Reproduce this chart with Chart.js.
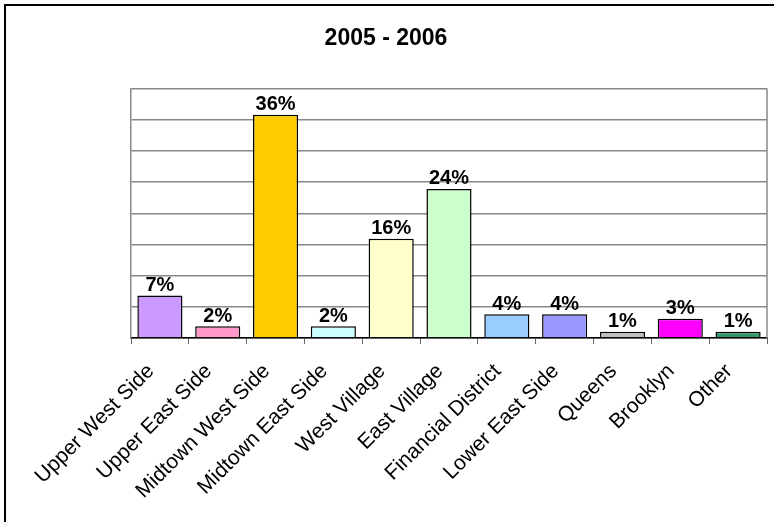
<!DOCTYPE html>
<html>
<head>
<meta charset="utf-8">
<script src="https://cdn.jsdelivr.net/npm/chart.js@4/dist/chart.umd.min.js"></script>
<style>
  html, body { margin: 0; padding: 0; background: #fff; }
  #box { width: 774px; height: 522px; }
</style>
</head>
<body>
<div id="box"><canvas id="myChart" width="774" height="522"></canvas></div>
<script>
// data (percent)
var areas = ["Upper West Side", "Upper East Side", "Midtown West Side", "Midtown East Side",
  "West Village", "East Village", "Financial District", "Lower East Side", "Queens", "Brooklyn", "Other"];
var shares = [6.8, 1.9, 35.8, 1.9, 15.9, 23.9, 3.8, 3.8, 1.0, 3.1, 1.0];
var barColors = ["#CC99FF", "#FF99CC", "#FFCC00", "#CCFFFF", "#FFFFCC", "#CCFFCC",
  "#99CCFF", "#9999FF", "#C0C0C0", "#FF00FF", "#339966"];

var FONT = "'Liberation Sans', Arial, sans-serif";

// white page + outer black frame
var framePlugin = {
  id: 'frame',
  beforeDraw: function (chart) {
    var ctx = chart.ctx;
    ctx.save();
    ctx.fillStyle = '#fff';
    ctx.fillRect(0, 0, chart.width, chart.height);
    ctx.strokeStyle = '#000';
    ctx.lineWidth = 2;
    ctx.strokeRect(5, 5, chart.width + 20, chart.height + 20);
    ctx.restore();
  },
  afterDraw: function (chart) {
    // right edge of plot area
    var a = chart.chartArea, ctx = chart.ctx;
    ctx.save();
    ctx.strokeStyle = '#888';
    ctx.lineWidth = 1.5;
    ctx.beginPath();
    ctx.moveTo(a.right, a.top);
    ctx.lineTo(a.right, a.bottom);
    ctx.stroke();
    ctx.restore();
  }
};

// percent labels over the bars
var labelPlugin = {
  id: 'barLabels',
  afterDatasetsDraw: function (chart) {
    var ctx = chart.ctx;
    var meta = chart.getDatasetMeta(0);
    ctx.save();
    ctx.font = 'bold 20px ' + FONT;
    ctx.fillStyle = '#000';
    ctx.textAlign = 'center';
    ctx.textBaseline = 'bottom';
    meta.data.forEach(function (bar, i) {
      ctx.fillText(Math.round(shares[i]) + '%', bar.x, bar.y);
    });
    ctx.restore();
  }
};

new Chart("myChart", {
  type: "bar",
  data: {
    labels: areas,
    datasets: [{
      data: shares,
      backgroundColor: barColors,
      borderColor: "#000",
      borderWidth: 1.5,
      barPercentage: 0.78,
      categoryPercentage: 1.0
    }]
  },
  options: {
    responsive: false,
    animation: false,
    layout: { padding: { left: 5, right: 7, top: 0, bottom: 4 } },
    plugins: {
      legend: { display: false },
      tooltip: { enabled: false },
      title: {
        display: true,
        text: "2005 - 2006",
        color: "#000",
        font: { family: FONT, size: 23, weight: 'bold' },
        padding: { top: 25, bottom: 36 }
      }
    },
    scales: {
      x: {
        grid: { offset: true, drawOnChartArea: false, drawTicks: true, tickLength: 6, color: '#666' },
        border: { color: '#000', width: 1.5 },
        ticks: {
          color: '#000',
          font: { family: FONT, size: 21 },
          maxRotation: 45,
          minRotation: 45,
          autoSkip: false,
          padding: 15,
          labelOffset: -9
        },
        afterFit: function (s) { s.height = 180; }
      },
      y: {
        min: 0,
        max: 40,
        ticks: { display: false, stepSize: 5 },
        grid: { color: '#888', lineWidth: 1.5, drawTicks: false },
        border: { color: '#888', width: 1.5 },
        afterFit: function (s) { s.width = 126; }
      }
    }
  },
  plugins: [framePlugin, labelPlugin]
});
</script>
</body>
</html>
